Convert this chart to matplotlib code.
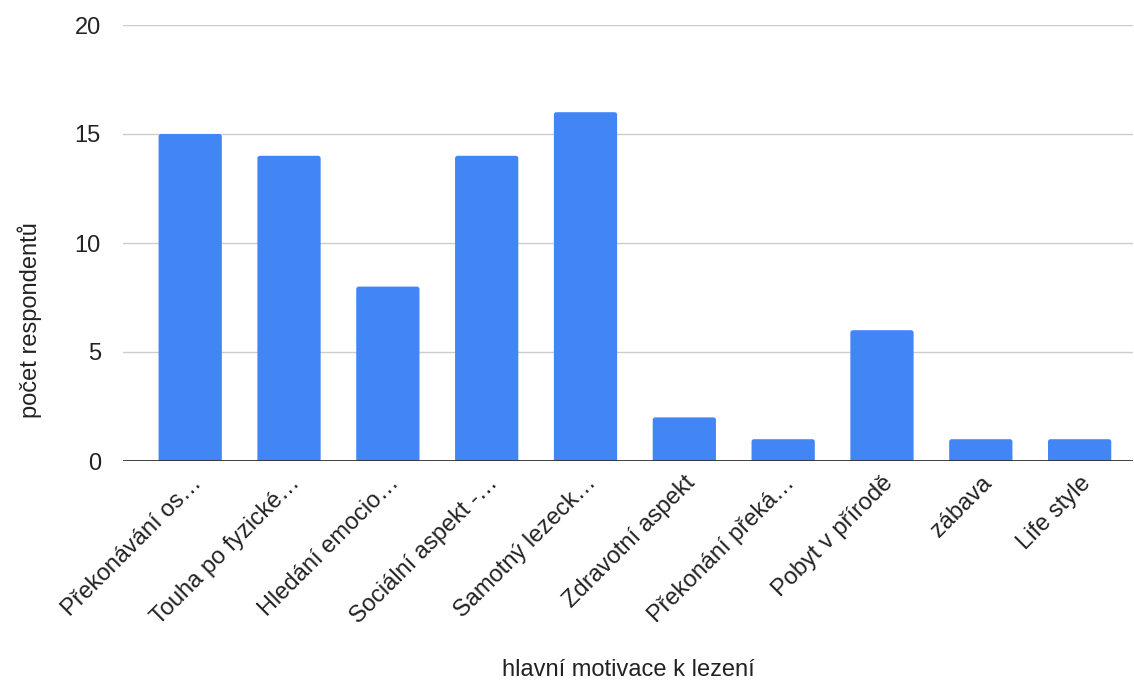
import matplotlib
matplotlib.use("Agg")
import matplotlib.pyplot as plt
from matplotlib.patches import FancyBboxPatch

categories = [
    "Překonávání os…",
    "Touha po fyzické…",
    "Hledání emocio…",
    "Sociální aspekt -…",
    "Samotný lezeck…",
    "Zdravotní aspekt",
    "Překonání překá…",
    "Pobyt v přírodě",
    "zábava",
    "Life style",
]
counts = [15, 14, 8, 14, 16, 2, 1, 6, 1, 1]
y_ticks = [0, 5, 10, 15, 20]

plt.rcParams["font.family"] = ["Liberation Sans", "DejaVu Sans"]

W, H = 1134, 685
fig = plt.figure(figsize=(W / 100, H / 100), dpi=100)
ax = fig.add_axes([123 / W, 1 - 461 / H, (1133 - 123) / W, (461 - 25) / H])

XMIN, XMAX, YMAX = -0.68, 9.54, 20
ax.set_xlim(XMIN, XMAX)
ax.set_ylim(0, YMAX)

x = list(range(len(categories)))
bars = ax.bar(x, counts, width=0.64, color="#4285F4", zorder=3)

# replace plain rectangles with slightly rounded ones
px_x = (XMAX - XMIN) / (1133 - 123)
px_y = YMAX / (461 - 25)
for b in bars:
    bx, bw, bh = b.get_x(), b.get_width(), b.get_height()
    b.set_visible(False)
    ax.add_patch(FancyBboxPatch((bx, -0.3), bw, bh + 0.3,
                                boxstyle=f"round,pad=0,rounding_size={2.5 * px_x}",
                                mutation_aspect=px_y / px_x,
                                facecolor="#4285F4", edgecolor="none", zorder=3))

ax.set_yticks(y_ticks)
ax.set_yticklabels([str(v) for v in y_ticks], fontsize=17, color="#222222")
ax.yaxis.grid(True, color="#cccccc", linewidth=1.0, zorder=0)
ax.axhline(0, color="#333333", linewidth=1.3, zorder=4)

for s in ax.spines.values():
    s.set_visible(False)
ax.tick_params(axis="y", length=0, pad=16)
ax.tick_params(axis="x", length=0, pad=8)

ax.set_xticks(x)
ax.set_xticklabels(categories, rotation=45, ha="right", rotation_mode="anchor",
                   fontsize=17, color="#222222")

fig.text(628 / W, 1 - 670 / H, "hlavní motivace k lezení", ha="center", va="center",
         fontsize=17, color="#222222")
fig.text(30 / W, 1 - 320 / H, "počet respondentů", ha="center", va="center",
         rotation=90, fontsize=17, color="#222222")

fig.savefig("out.png", dpi=100, facecolor="white")
